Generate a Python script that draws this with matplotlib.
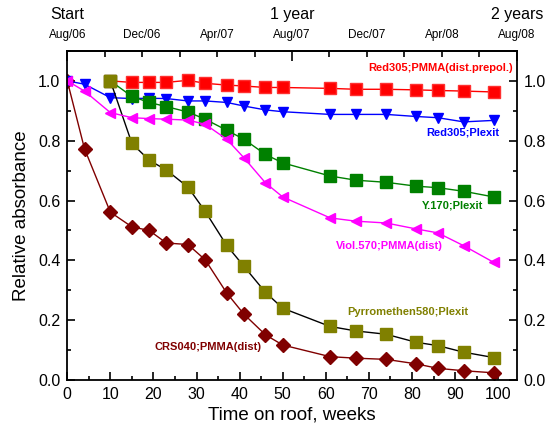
import numpy as np
import matplotlib
matplotlib.use("Agg")
import matplotlib.pyplot as plt
from matplotlib.ticker import MultipleLocator, FixedLocator, FixedFormatter

plt.rcParams['font.family'] = ['Liberation Sans', 'DejaVu Sans']

# weeks on roof
weeks_all = [0, 4, 10, 15, 19, 23, 28, 32, 37, 41, 46, 50, 61, 67, 74, 81, 86, 92, 99]
weeks_late = weeks_all[2:]   # series that start at week 10

red305_pmma = [1.0, 0.995, 0.995, 0.995, 1.002, 0.992, 0.986, 0.983, 0.978, 0.978,
               0.975, 0.972, 0.972, 0.970, 0.968, 0.966, 0.963]
red305_plexit = [1.0, 0.989, 0.944, 0.941, 0.942, 0.941, 0.933, 0.933, 0.928, 0.916,
                 0.903, 0.897, 0.888, 0.888, 0.888, 0.881, 0.877, 0.863, 0.868]
y170_plexit = [1.0, 0.948, 0.928, 0.914, 0.896, 0.872, 0.835, 0.805, 0.754, 0.726,
               0.682, 0.668, 0.661, 0.648, 0.643, 0.631, 0.612]
viol570_pmma = [1.0, 0.966, 0.894, 0.877, 0.874, 0.872, 0.869, 0.855, 0.805, 0.743,
                0.659, 0.612, 0.542, 0.531, 0.525, 0.505, 0.492, 0.449, 0.393]
pyrro580_plexit = [1.0, 0.791, 0.735, 0.702, 0.645, 0.564, 0.450, 0.380, 0.293, 0.240,
                   0.179, 0.164, 0.153, 0.126, 0.115, 0.093, 0.075]
crs040_pmma = [1.0, 0.773, 0.561, 0.512, 0.500, 0.458, 0.453, 0.402, 0.291, 0.220,
               0.151, 0.117, 0.078, 0.073, 0.069, 0.054, 0.039, 0.031, 0.024]

# top axis (months since Aug/06)
month_major = [0, 12, 24]
month_major_labels = ['Aug/06', 'Aug/07', 'Aug/08']
month_minor = [2, 4, 6, 8, 10, 14, 16, 18, 20, 22]
month_minor_labels = ['', 'Dec/06', '', 'Apr/07', '', '', 'Dec/07', '', 'Apr/08', '']
year_marks = [(0, 'Start'), (12, '1 year'), (24, '2 years')]

WEEKS_MAX = 104.3
w2m = lambda w: np.asarray(w) * 24.0 / WEEKS_MAX
m2w = lambda m: np.asarray(m) * WEEKS_MAX / 24.0

fig = plt.figure(figsize=(5.47, 4.34), dpi=100)
ax = fig.add_axes([0.123, 0.1244, 0.8216, 0.7581])

ms = 8
ax.plot(weeks_all, crs040_pmma, color='#800000', marker='D', ms=7.5, lw=1)
ax.plot(weeks_all, red305_plexit, color='#0000ff', marker='v', ms=7, lw=1)
ax.plot(weeks_late, red305_pmma, color='#ff0000', marker='s', ms=ms, lw=1,
        mec='#ff3030')
ax.plot(weeks_late, y170_plexit, color='#008000', marker='s', ms=ms, lw=1)
ax.plot(weeks_late, pyrro580_plexit, color='black', marker='s', ms=ms, lw=1,
        mfc='#808000', mec='#808000')
ax.plot(weeks_all, viol570_pmma, color='#ff00ff', marker='<', ms=7.5, lw=1)

ax.set_xlim(0, WEEKS_MAX)
ax.set_ylim(0, 1.1)
ax.xaxis.set_major_locator(MultipleLocator(10))
ax.xaxis.set_minor_locator(MultipleLocator(5))
ax.set_xticks(np.arange(0, 101, 10))
ax.yaxis.set_major_locator(MultipleLocator(0.2))
ax.yaxis.set_minor_locator(MultipleLocator(0.1))
ax.yaxis.set_major_formatter(plt.FuncFormatter(lambda v, p: '%.1f' % v))
ax.tick_params(which='both', direction='in', top=False, right=True,
               labelright=True, labelsize=11.5, width=1.2)
ax.tick_params(which='major', length=6, pad=5)
ax.tick_params(which='minor', length=3)
for s in ax.spines.values():
    s.set_linewidth(1.3)

ax.set_xlabel('Time on roof, weeks', fontsize=13.5, labelpad=3)
ax.set_ylabel('Relative absorbance', fontsize=13.5, labelpad=6)

top = ax.secondary_xaxis('top', functions=(w2m, m2w))
top.xaxis.set_major_locator(FixedLocator(month_major))
top.xaxis.set_major_formatter(FixedFormatter(month_major_labels))
top.xaxis.set_minor_locator(FixedLocator(month_minor))
top.xaxis.set_minor_formatter(FixedFormatter(month_minor_labels))
top.tick_params(which='both', direction='in', labelsize=8.5, pad=7, width=1.2)
top.tick_params(which='major', length=7)
top.tick_params(which='minor', length=4)
top.spines['top'].set_linewidth(1.3)

for m, txt in year_marks:
    ax.text(m2w(m), 1.112, txt, transform=ax.get_xaxis_transform(),
            ha='center', va='center', fontsize=11.5)

kw = dict(fontsize=8, fontweight='bold')
ax.text(103.5, 1.043, 'Red305;PMMA(dist.prepol.)', color='#ff0000', ha='right', va='center', **kw)
ax.text(100.2, 0.828, 'Red305;Plexit', color='#0000ff', ha='right', va='center', **kw)
ax.text(96.5, 0.584, 'Y.170;Plexit', color='#008000', ha='right', va='center', **kw)
ax.text(74.8, 0.447, 'Viol.570;PMMA(dist)', color='#ff00ff', ha='center', va='center', **kw)
ax.text(79.0, 0.226, 'Pyrromethen580;Plexit', color='#808000', ha='center', va='center', **kw)
ax.text(32.6, 0.112, 'CRS040;PMMA(dist)', color='#800000', ha='center', va='center', **kw)

fig.savefig('out.png', dpi=100)
